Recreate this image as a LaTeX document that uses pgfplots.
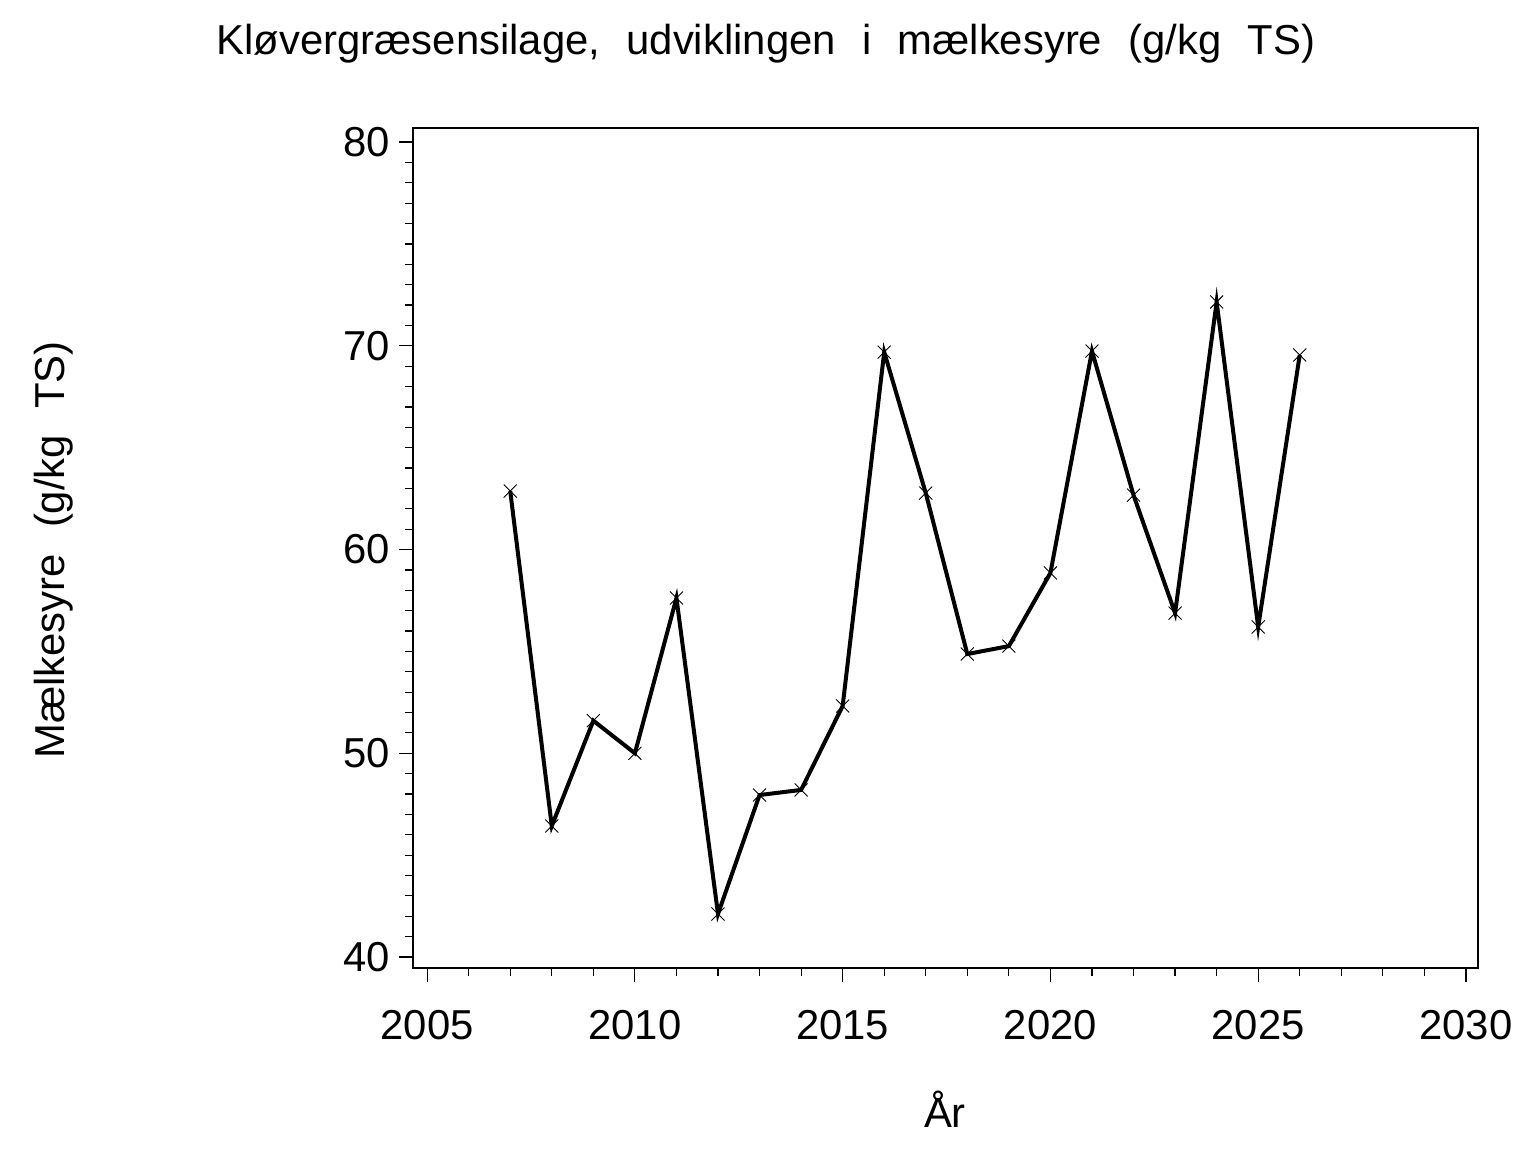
\documentclass[border=0pt]{standalone}
\usepackage{pgfplots}
\pgfplotsset{compat=1.18}
\usepackage{fontspec}
\setmainfont{Liberation Sans}
\begin{document}
\begin{tikzpicture}
\useasboundingbox (-206.5bp,-92bp) rectangle (561.5bp,484bp);
\begin{axis}[
  at={(0,0)}, anchor=south west,
  scale only axis, width=532.5bp, height=420bp,
  xmin=2004.66, xmax=2030.29, ymin=39.46, ymax=80.69,
  xtick={2005,2010,2015,2020,2025,2030},
  ytick={40,50,60,70,80},
  minor x tick num=4, minor y tick num=9,
  tick align=outside, xtick pos=bottom, ytick pos=left,
  major tick length=7bp, minor tick length=4bp,
  axis line style={line width=0.6bp},
  every tick/.style={line width=0.6bp, black},
  /pgf/number format/assume math mode=true,
  /pgf/number format/1000 sep={},
  tick label style={font=\fontsize{21}{25}\selectfont},
  xticklabel style={yshift=-10.5bp},
  yticklabel style={xshift=-1bp},
  clip=false,
]
\addplot[black, line width=2bp, mark=x, mark size=4.6bp, mark options={line width=0.45bp, solid}] coordinates {
(2007,62.87) (2008,46.43) (2009,51.6) (2010,50.0) (2011,57.62) (2012,42.11)
(2013,47.95) (2014,48.2) (2015,52.32) (2016,69.69) (2017,62.77) (2018,54.87)
(2019,55.26) (2020,58.85) (2021,69.74) (2022,62.67) (2023,56.88) (2024,72.15)
(2025,56.2) (2026,69.55)
};
\end{axis}
\node[anchor=base, font=\fontsize{21}{25}\selectfont] at (176.5bp,456.5bp) {Kløvergræsensilage,\hspace{0.35em} udviklingen\hspace{0.35em} i\hspace{0.35em} mælkesyre\hspace{0.35em} (g/kg\hspace{0.35em} TS)};
\node[anchor=base, font=\fontsize{21}{25}\selectfont] at (266bp,-79.5bp) {År};
\node[anchor=base, rotate=90, font=\fontsize{21}{25}\selectfont] at (-174bp,209bp) {Mælkesyre\hspace{0.35em} (g/kg\hspace{0.35em} TS)};
\end{tikzpicture}
\end{document}
